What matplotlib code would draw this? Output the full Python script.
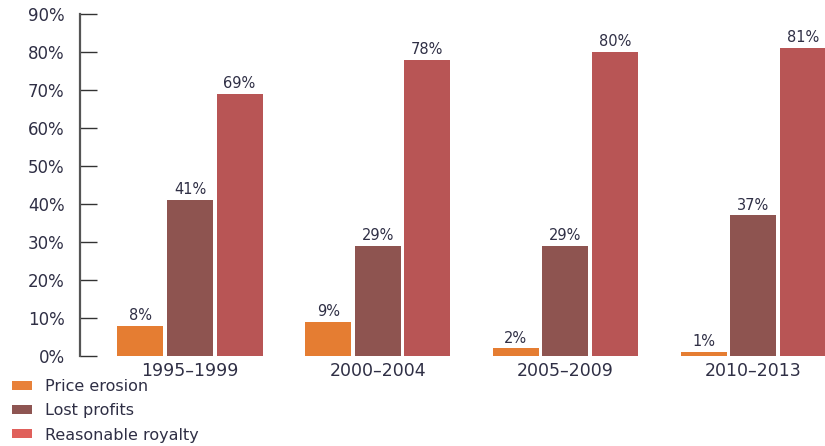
import matplotlib
matplotlib.use("Agg")
import matplotlib.pyplot as plt
import numpy as np
from matplotlib.patches import Patch

periods = ["1995\u20131999", "2000\u20132004", "2005\u20132009", "2010\u20132013"]
price_erosion = [8, 9, 2, 1]
lost_profits = [41, 29, 29, 37]
reasonable_royalty = [69, 78, 80, 81]

series_names = ["Price erosion", "Lost profits", "Reasonable royalty"]
bar_colors = ["#e57d32", "#8e5450", "#b85555"]
legend_colors = ["#e8813a", "#8e5552", "#e0605b"]
text_color = "#2f2f45"

fig = plt.figure(figsize=(8.25, 4.46), dpi=100)
ax = fig.add_axes([80 / 825, 90 / 446, 745 / 825, 342 / 446])

x = np.arange(len(periods))
step = 0.264
width = 0.245
for i, (vals, color) in enumerate(zip([price_erosion, lost_profits, reasonable_royalty], bar_colors)):
    pos = x + (i - 1) * step
    ax.bar(pos, vals, width=width, color=color, edgecolor="none")
    for px_, v in zip(pos, vals):
        ax.annotate(f"{v}%", (px_, v), xytext=(0, 2), textcoords="offset points",
                    ha="center", va="bottom", fontsize=10.5, color=text_color)

ax.set_xlim(-0.586, 3.383)
ax.set_ylim(0, 90)
ax.set_yticks(range(0, 91, 10))
ax.set_yticklabels([f"{t}%" for t in range(0, 91, 10)])
ax.set_xticks(x)
ax.set_xticklabels(periods)

for side in ("top", "right", "bottom"):
    ax.spines[side].set_visible(False)
ax.spines["left"].set_color("#555555")
ax.spines["left"].set_linewidth(1.6)

ax.tick_params(axis="y", direction="in", length=12.5, width=1.0, color="#333333",
               pad=11, labelsize=12, labelcolor=text_color)
ax.tick_params(axis="x", length=0, pad=4, labelsize=12.5, labelcolor=text_color)

handles = [Patch(facecolor=c, edgecolor="none") for c in legend_colors]
fig.legend(handles, series_names, loc="upper left", bbox_to_anchor=(0.015, 1 - 379 / 446),
           frameon=False, fontsize=11.5, labelcolor=text_color, handlelength=1.2,
           handleheight=0.5, handletextpad=0.85, labelspacing=0.58, borderpad=0,
           borderaxespad=0)

fig.savefig("out.png", dpi=100)
